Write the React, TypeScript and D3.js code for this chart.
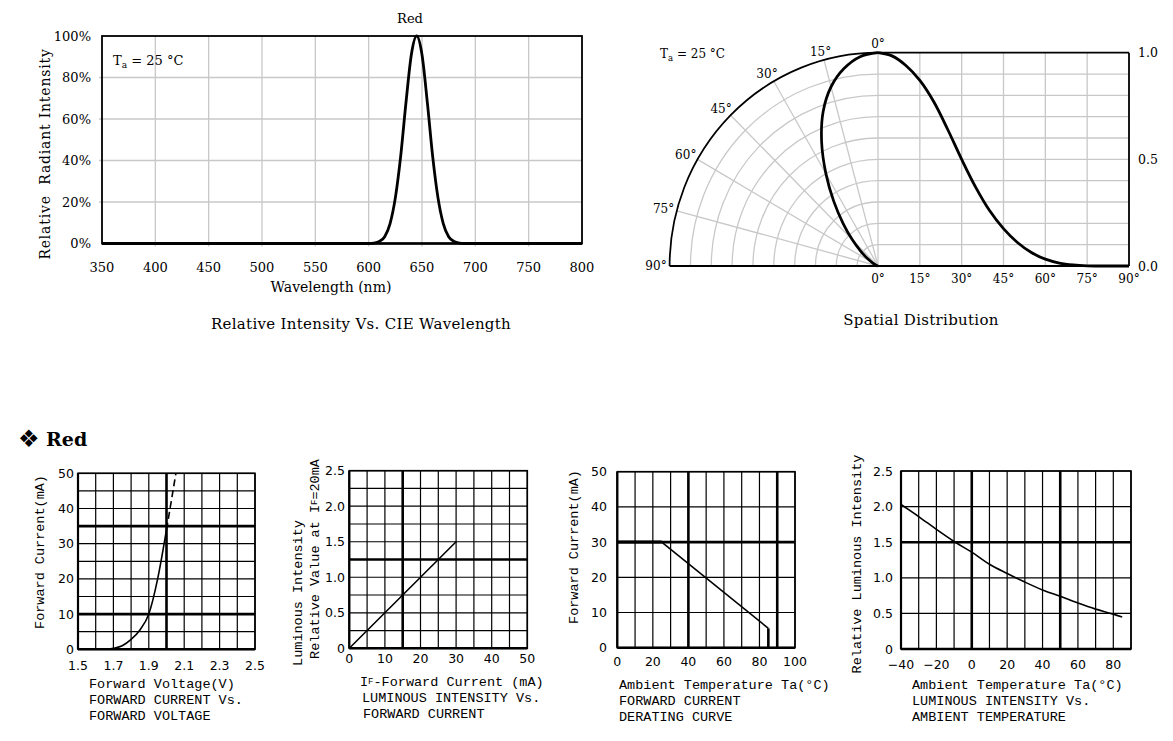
import React from 'react';
import * as d3 from 'd3';

// --- Relative intensity vs wavelength (Red)
const wavelengthNm = [350, 600, 605, 610, 615, 620, 625, 630, 635, 640, 645, 650, 655, 660, 665, 670, 675, 680, 685, 690, 800];
const radiantPct = [0, 0, 0.2, 1, 3.3, 9.5, 22, 42, 68, 91, 100, 91, 68, 42, 22, 9.5, 3.3, 1, 0.2, 0, 0];
const wavelengthTicks = [350, 400, 450, 500, 550, 600, 650, 700, 750, 800];
const percentTicks = [0, 20, 40, 60, 80, 100];

// --- Spatial distribution
const angleDeg = [0, 5, 10, 15, 20, 25, 30, 35, 40, 45, 50, 55, 60, 65, 70, 75, 80, 85, 90];
const spatialRel = [1, 0.985, 0.94, 0.87, 0.77, 0.64, 0.5, 0.37, 0.26, 0.175, 0.11, 0.063, 0.032, 0.014, 0.005, 0.001, 0, 0, 0];
const angleTicks = [0, 15, 30, 45, 60, 75, 90];
const ringTicks = [0.1, 0.2, 0.3, 0.4, 0.5, 0.6, 0.7, 0.8, 0.9, 1.0];
const relTickLabels = [0, 0.5, 1.0];

// --- Forward current vs forward voltage
const fwdVoltage = [1.66, 1.7, 1.75, 1.8, 1.85, 1.9, 1.95, 2.0];
const fwdCurrent = [0, 0.3, 1.0, 2.8, 5.5, 10, 20, 34];
const fwdVoltageDash = [2.0, 2.03, 2.053];
const fwdCurrentDash = [34, 43, 50];
const voltageLabels = [1.5, 1.7, 1.9, 2.1, 2.3, 2.5];
const currentLabels = [0, 10, 20, 30, 40, 50];

// --- Luminous intensity vs forward current
const ifCurrent = [0, 30];
const lumRelIf = [0, 1.5];
const ifLabels = [0, 10, 20, 30, 40, 50];
const relLabels = [0, 0.5, 1.0, 1.5, 2.0, 2.5];

// --- Derating curve
const deratingTemp = [0, 25, 85, 85];
const deratingCurrent = [30, 30, 5.5, 0];
const deratingTempLabels = [0, 20, 40, 60, 80, 100];

// --- Luminous intensity vs ambient temperature
const ambientTemp = [-40, -30, -20, -10, 0, 10, 20, 30, 40, 50, 60, 70, 80, 85];
const lumVsTemp = [2.03, 1.86, 1.68, 1.51, 1.36, 1.19, 1.06, 0.94, 0.83, 0.74, 0.645, 0.56, 0.49, 0.45];
const ambientLabels = [-40, -20, 0, 20, 40, 60, 80];

const SERIF = '"DejaVu Serif", serif';
const SANS = '"DejaVu Sans", sans-serif';
const MONO = '"Liberation Mono", monospace';
const GRAY = '#c8c8c8';

const near = (arr, v) => arr.some((t) => Math.abs(t - v) < 1e-6);
const fmt1 = (v) => (v === 0 ? '0' : v.toFixed(1));

function GridChart({ x, y, xGrid, yGrid, xThick, yThick, xLabels, yLabels, xFmt, yFmt, xLabelY, yLabelX }) {
  const [x0, x1] = x.range();
  const [y0, y1] = y.range();
  return (
    <g>
      {xGrid.map((v) => (
        <line key={'gx' + v} x1={x(v)} x2={x(v)} y1={y0} y2={y1} stroke="#000" strokeWidth={near(xThick, v) ? 2.6 : 1.2} />
      ))}
      {yGrid.map((v) => (
        <line key={'gy' + v} x1={x0} x2={x1} y1={y(v)} y2={y(v)} stroke="#000" strokeWidth={near(yThick, v) ? 2.6 : 1.2} />
      ))}
      <rect x={x0} y={y1} width={x1 - x0} height={y0 - y1} fill="none" stroke="#000" strokeWidth={1.6} />
      <line x1={x0} x2={x1} y1={y0} y2={y0} stroke="#000" strokeWidth={2.4} />
      <line x1={x0} x2={x0} y1={y0} y2={y1} stroke="#000" strokeWidth={2.2} />
      {xLabels.map((v) => (
        <text key={'lx' + v} x={x(v)} y={xLabelY} textAnchor="middle" dominantBaseline="central" fontFamily={SANS} fontSize={12.5}>
          {xFmt(v)}
        </text>
      ))}
      {yLabels.map((v) => (
        <text key={'ly' + v} x={yLabelX} y={y(v)} textAnchor="end" dominantBaseline="central" fontFamily={SANS} fontSize={12.5}>
          {yFmt(v)}
        </text>
      ))}
    </g>
  );
}

function Caption({ x, y, lines }) {
  return (
    <g fontFamily={MONO} fontSize={13.5}>
      {lines.map((l, i) => (
        <text key={i} x={x} y={y + i * 16} dominantBaseline="central">
          {l}
        </text>
      ))}
    </g>
  );
}

export default function App() {
  // spectrum
  const xW = d3.scaleLinear().domain([350, 800]).range([102, 582]);
  const yW = d3.scaleLinear().domain([0, 100]).range([243.5, 36]);
  const specLine = d3
    .line()
    .x((d) => xW(d[0]))
    .y((d) => yW(d[1]))
    .curve(d3.curveMonotoneX);
  const specPts = wavelengthNm.map((w, i) => [w, radiantPct[i]]);

  // spatial
  const cx = 878;
  const cy = 266;
  const R = 213.3;
  const rS = d3.scaleLinear().domain([0, 1]).range([0, R]);
  const xA = d3.scaleLinear().domain([0, 90]).range([cx, 1129]);
  const yA = d3.scaleLinear().domain([0, 1]).range([cy, cy - R]);
  const rad = (a) => (a * Math.PI) / 180;
  const polarLine = d3
    .lineRadial()
    .angle((d) => -rad(d[0]))
    .radius((d) => rS(d[1]))
    .curve(d3.curveCatmullRom);
  const spatialPts = angleDeg.map((a, i) => [a, spatialRel[i]]);
  const cartLine = d3
    .line()
    .x((d) => xA(d[0]))
    .y((d) => yA(d[1]))
    .curve(d3.curveCatmullRom);
  const ring = d3.arc().startAngle(-Math.PI / 2).endAngle(0);

  // bottom charts
  const x1 = d3.scaleLinear().domain([1.5, 2.5]).range([78, 255]);
  const y1 = d3.scaleLinear().domain([0, 50]).range([649.3, 473.3]);
  const x2 = d3.scaleLinear().domain([0, 50]).range([349.3, 527.3]);
  const y2 = d3.scaleLinear().domain([0, 2.5]).range([648.3, 470.7]);
  const x3 = d3.scaleLinear().domain([0, 100]).range([617.3, 795]);
  const y3 = d3.scaleLinear().domain([0, 50]).range([647.7, 471.7]);
  const x4 = d3.scaleLinear().domain([-40, 90]).range([901, 1131]);
  const y4 = d3.scaleLinear().domain([0, 2.5]).range([649, 471]);

  const ivLine = d3.line().x((d) => x1(d[0])).y((d) => y1(d[1])).curve(d3.curveMonotoneX);
  const lumLine = d3.line().x((d) => x2(d[0])).y((d) => y2(d[1]));
  const derLine = d3.line().x((d) => x3(d[0])).y((d) => y3(d[1]));
  const tempLine = d3.line().x((d) => x4(d[0])).y((d) => y4(d[1])).curve(d3.curveMonotoneX);

  return (
    <svg width={1173} height={741} style={{ position: 'absolute', left: 0, top: 0, background: '#fff' }}>
      {/* ---------- Spectrum ---------- */}
      <g>
        {wavelengthTicks.slice(1, -1).map((w) => (
          <line key={w} x1={xW(w)} x2={xW(w)} y1={yW(100)} y2={yW(0) + 3} stroke={GRAY} strokeWidth={1.3} />
        ))}
        {percentTicks.slice(1, -1).map((p) => (
          <line key={p} x1={xW(350) - 3} x2={xW(800)} y1={yW(p)} y2={yW(p)} stroke={GRAY} strokeWidth={1.3} />
        ))}
        <rect x={xW(350)} y={yW(100)} width={xW(800) - xW(350)} height={yW(0) - yW(100)} fill="none" stroke="#000" strokeWidth={1.8} />
        <line x1={xW(350)} x2={xW(800)} y1={yW(0)} y2={yW(0)} stroke="#000" strokeWidth={2.6} />
        <path d={specLine(specPts)} fill="none" stroke="#000" strokeWidth={2.8} />
        {wavelengthTicks.map((w) => (
          <text key={w} x={xW(w)} y={267} textAnchor="middle" dominantBaseline="central" fontFamily={SERIF} fontSize={13}>
            {w}
          </text>
        ))}
        {percentTicks.map((p) => (
          <text key={p} x={91} y={yW(p)} textAnchor="end" dominantBaseline="central" fontFamily={SERIF} fontSize={13}>
            {p}%
          </text>
        ))}
        <text x={410} y={18} textAnchor="middle" dominantBaseline="central" fontFamily={SERIF} fontSize={13}>
          Red
        </text>
        <text x={113} y={65} fontFamily={SERIF} fontSize={13}>
          T<tspan fontSize={9} dy={3}>a</tspan>
          <tspan dy={-3}> = 25 °C</tspan>
        </text>
        <text
          transform="translate(45,154) rotate(-90)"
          textAnchor="middle"
          dominantBaseline="central"
          fontFamily={SERIF}
          fontSize={14}
          letterSpacing={0.8}
          style={{ whiteSpace: 'pre' }}
        >
          Relative  Radiant Intensity
        </text>
        <text x={331} y={287} textAnchor="middle" dominantBaseline="central" fontFamily={SERIF} fontSize={14}>
          Wavelength (nm)
        </text>
        <text x={361} y={324} textAnchor="middle" dominantBaseline="central" fontFamily={SERIF} fontSize={15} letterSpacing={0.3}>
          Relative Intensity Vs. CIE Wavelength
        </text>
      </g>

      {/* ---------- Spatial distribution ---------- */}
      <g>
        {ringTicks.slice(0, -1).map((r) => (
          <line key={'h' + r} x1={cx} x2={xA(90)} y1={yA(r)} y2={yA(r)} stroke={GRAY} strokeWidth={1.3} />
        ))}
        {angleTicks.slice(1, -1).map((a) => (
          <line key={'v' + a} x1={xA(a)} x2={xA(a)} y1={yA(0)} y2={yA(1)} stroke={GRAY} strokeWidth={1.3} />
        ))}
        <g transform={`translate(${cx},${cy}) scale(0.977,1)`}>
          {ringTicks.slice(0, -1).map((r) => (
            <path key={'r' + r} d={ring.innerRadius(rS(r)).outerRadius(rS(r))()} fill="none" stroke={GRAY} strokeWidth={1.3} />
          ))}
          {angleTicks.slice(0, -1).map((a) => (
            <line key={'s' + a} x1={0} y1={0} x2={-rS(1) * Math.sin(rad(a))} y2={-rS(1) * Math.cos(rad(a))} stroke={GRAY} strokeWidth={1.3} />
          ))}
          <path d={ring.innerRadius(rS(1)).outerRadius(rS(1))()} fill="none" stroke="#000" strokeWidth={1.8} />
          <path d={polarLine(spatialPts)} fill="none" stroke="#000" strokeWidth={2.8} />
        </g>
        <line x1={cx} x2={xA(90)} y1={yA(1)} y2={yA(1)} stroke="#000" strokeWidth={1.8} />
        <line x1={xA(90)} x2={xA(90)} y1={yA(1)} y2={yA(0)} stroke="#000" strokeWidth={1.8} />
        <line x1={cx - R * 0.977} x2={xA(90)} y1={yA(0)} y2={yA(0)} stroke="#000" strokeWidth={1.8} />
        <path d={cartLine(spatialPts)} fill="none" stroke="#000" strokeWidth={2.8} />
        {angleTicks.map((a) => (
          <text
            key={'pl' + a}
            x={cx - 222 * Math.sin(rad(a))}
            y={cy - 222 * Math.cos(rad(a))}
            textAnchor="middle"
            dominantBaseline="central"
            fontFamily={SERIF}
            fontSize={12}
          >
            {a}°
          </text>
        ))}
        {angleTicks.map((a) => (
          <text key={'xl' + a} x={xA(a)} y={279} textAnchor="middle" dominantBaseline="central" fontFamily={SERIF} fontSize={12}>
            {a}°
          </text>
        ))}
        {relTickLabels.map((v) => (
          <text key={'rl' + v} x={1138} y={yA(v)} dominantBaseline="central" fontFamily={SERIF} fontSize={12.5}>
            {v.toFixed(1)}
          </text>
        ))}
        <text x={660} y={58} fontFamily={SERIF} fontSize={12}>
          T<tspan fontSize={8.5} dy={3}>a</tspan>
          <tspan dy={-3}> = 25 °C</tspan>
        </text>
        <text x={921} y={320} textAnchor="middle" dominantBaseline="central" fontFamily={SERIF} fontSize={15} letterSpacing={0.3}>
          Spatial Distribution
        </text>
      </g>

      {/* ---------- Section heading ---------- */}
      <text x={18} y={439} dominantBaseline="central" fontFamily={SANS} fontSize={24}>
        ❖
      </text>
      <text x={46} y={439} dominantBaseline="central" fontFamily={SERIF} fontSize={19} fontWeight="bold">
        Red
      </text>

      {/* ---------- Chart 1: IF vs VF ---------- */}
      <GridChart
        x={x1}
        y={y1}
        xGrid={d3.range(1.5, 2.5001, 0.1)}
        yGrid={d3.range(0, 50.001, 5)}
        xThick={[2.0]}
        yThick={[10, 35]}
        xLabels={voltageLabels}
        yLabels={currentLabels}
        xFmt={(v) => v.toFixed(1)}
        yFmt={(v) => String(v)}
        xLabelY={665}
        yLabelX={74}
      />
      <path d={ivLine(fwdVoltage.map((v, i) => [v, fwdCurrent[i]]))} fill="none" stroke="#000" strokeWidth={1.6} />
      <path d={ivLine(fwdVoltageDash.map((v, i) => [v, fwdCurrentDash[i]]))} fill="none" stroke="#000" strokeWidth={1.6} strokeDasharray="7,4" />
      <text transform="translate(40,552) rotate(-90)" textAnchor="middle" dominantBaseline="central" fontFamily={MONO} fontSize={13.5}>
        Forward Current(mA)
      </text>
      <Caption x={89} y={684} lines={['Forward Voltage(V)', 'FORWARD CURRENT Vs.', 'FORWARD VOLTAGE']} />

      {/* ---------- Chart 2: IV vs IF ---------- */}
      <GridChart
        x={x2}
        y={y2}
        xGrid={d3.range(0, 50.001, 5)}
        yGrid={d3.range(0, 2.5001, 0.25)}
        xThick={[15]}
        yThick={[1.25]}
        xLabels={ifLabels}
        yLabels={relLabels}
        xFmt={(v) => String(v)}
        yFmt={fmt1}
        xLabelY={658}
        yLabelX={345}
      />
      <path d={lumLine(ifCurrent.map((v, i) => [v, lumRelIf[i]]))} fill="none" stroke="#000" strokeWidth={1.6} />
      <text transform="translate(298,593) rotate(-90)" textAnchor="middle" dominantBaseline="central" fontFamily={MONO} fontSize={13.5}>
        Luminous Intensity
      </text>
      <text transform="translate(315,559) rotate(-90)" textAnchor="middle" dominantBaseline="central" fontFamily={MONO} fontSize={13.5}>
        Relative Value at I<tspan fontSize={9}>F</tspan>=20mA
      </text>
      <g fontFamily={MONO} fontSize={13.5}>
        <text x={360} y={682} dominantBaseline="central">
          I<tspan fontSize={9}>F</tspan>-Forward Current (mA)
        </text>
        <text x={362} y={698} dominantBaseline="central">
          LUMINOUS INTENSITY Vs.
        </text>
        <text x={363} y={714} dominantBaseline="central">
          FORWARD CURRENT
        </text>
      </g>

      {/* ---------- Chart 3: derating ---------- */}
      <GridChart
        x={x3}
        y={y3}
        xGrid={d3.range(0, 100.001, 10)}
        yGrid={d3.range(0, 50.001, 10)}
        xThick={[40, 90]}
        yThick={[30]}
        xLabels={deratingTempLabels}
        yLabels={currentLabels}
        xFmt={(v) => String(v)}
        yFmt={(v) => String(v)}
        xLabelY={661}
        yLabelX={607}
      />
      <path d={derLine(deratingTemp.slice(0, 2).map((v, i) => [v, deratingCurrent[i]]))} fill="none" stroke="#000" strokeWidth={3} />
      <path d={derLine(deratingTemp.slice(1, 3).map((v, i) => [v, deratingCurrent[i + 1]]))} fill="none" stroke="#000" strokeWidth={1.6} />
      <path d={derLine(deratingTemp.slice(2, 4).map((v, i) => [v, deratingCurrent[i + 2]]))} fill="none" stroke="#000" strokeWidth={2.6} />
      <text transform="translate(574,547) rotate(-90)" textAnchor="middle" dominantBaseline="central" fontFamily={MONO} fontSize={13.5}>
        Forward Current(mA)
      </text>
      <Caption x={619} y={685} lines={['Ambient Temperature Ta(°C)', 'FORWARD CURRENT', 'DERATING CURVE']} />

      {/* ---------- Chart 4: IV vs Ta ---------- */}
      <GridChart
        x={x4}
        y={y4}
        xGrid={d3.range(-40, 90.001, 10)}
        yGrid={d3.range(0, 2.5001, 0.5)}
        xThick={[0, 50]}
        yThick={[1.5]}
        xLabels={ambientLabels}
        yLabels={relLabels}
        xFmt={d3.format('d')}
        yFmt={fmt1}
        xLabelY={664}
        yLabelX={893}
      />
      <path d={tempLine(ambientTemp.map((v, i) => [v, lumVsTemp[i]]))} fill="none" stroke="#000" strokeWidth={1.6} />
      <text transform="translate(857,564) rotate(-90)" textAnchor="middle" dominantBaseline="central" fontFamily={MONO} fontSize={13.5}>
        Relative Luminous Intensity
      </text>
      <Caption x={912} y={685} lines={['Ambient Temperature Ta(°C)', 'LUMINOUS INTENSITY Vs.', 'AMBIENT TEMPERATURE']} />
    </svg>
  );
}
